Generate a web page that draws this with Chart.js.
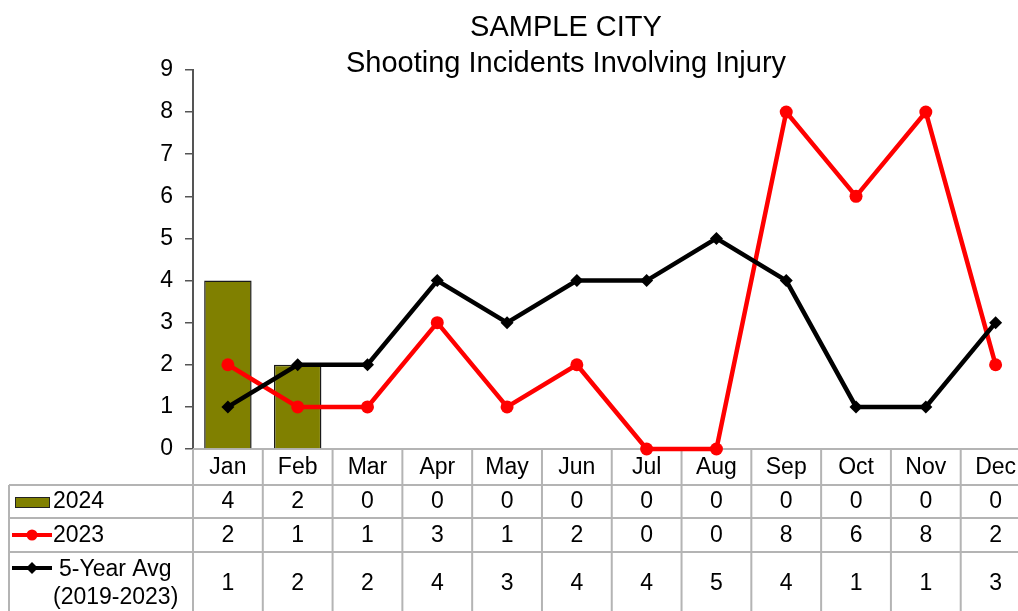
<!DOCTYPE html>
<html>
<head>
<meta charset="utf-8">
<script src="https://cdn.jsdelivr.net/npm/chart.js@4/dist/chart.umd.min.js"></script>
<style>
    html, body { margin: 0; padding: 0; background: #fff; overflow: hidden; }
    #wrap { width: 1037px; height: 611px; position: relative; }
</style>
</head>
<body>
<div id="wrap"><canvas id="chart"></canvas></div>
<script>
// ---- data ----
const months = ['Jan', 'Feb', 'Mar', 'Apr', 'May', 'Jun', 'Jul', 'Aug', 'Sep', 'Oct', 'Nov', 'Dec'];
const values2024 = [4, 2, 0, 0, 0, 0, 0, 0, 0, 0, 0, 0];
const values2023 = [2, 1, 1, 3, 1, 2, 0, 0, 8, 6, 8, 2];
const avg5Year = [1, 2, 2, 4, 3, 4, 4, 5, 4, 1, 1, 3];
const yTicks = [0, 1, 2, 3, 4, 5, 6, 7, 8, 9];
const titleLines = ['SAMPLE CITY', 'Shooting Incidents Involving Injury'];

const FONT = '"Liberation Sans", Arial, sans-serif';
const OLIVE = '#808000';
const GRID = '#b4b4b4';
const ROW_TOPS = [485, 518, 552];

// table grid goes under the series so zero values stay visible
const tableGrid = {
    id: 'tableGrid',
    beforeDatasetsDraw(chart) {
        const ctx = chart.ctx;
        const area = chart.chartArea;
        const colW = chart.scales.x.width / months.length;
        const leftEdge = 9;

        ctx.save();
        ctx.strokeStyle = GRID;
        ctx.lineWidth = 2;
        ctx.beginPath();
        ctx.moveTo(area.left, area.bottom);
        ctx.lineTo(area.right, area.bottom);
        ROW_TOPS.forEach(y => {
            ctx.moveTo(leftEdge, y);
            ctx.lineTo(area.right, y);
        });
        ctx.moveTo(leftEdge, ROW_TOPS[0]);
        ctx.lineTo(leftEdge, 611);
        for (let i = 0; i <= months.length; i++) {
            const px = area.left + i * colW;
            ctx.moveTo(px, area.bottom);
            ctx.lineTo(px, 611);
        }
        ctx.stroke();
        ctx.restore();
    }
};

// title, month labels, values and row labels
const tableText = {
    id: 'tableText',
    afterDraw(chart) {
        const ctx = chart.ctx;
        const x = chart.scales.x;
        const area = chart.chartArea;

        ctx.save();
        ctx.fillStyle = '#000';
        ctx.textAlign = 'center';
        ctx.textBaseline = 'alphabetic';
        ctx.font = '29px ' + FONT;
        ctx.fillText(titleLines[0], 566, 36);
        ctx.fillText(titleLines[1], 566, 72);

        ctx.font = '23px ' + FONT;
        ctx.textBaseline = 'middle';
        months.forEach((m, i) => {
            const cx = x.getPixelForValue(i);
            ctx.fillText(m, cx, (area.bottom + ROW_TOPS[0]) / 2 + 1);
            ctx.fillText(String(values2024[i]), cx, 502);
            ctx.fillText(String(values2023[i]), cx, 536);
            ctx.fillText(String(avg5Year[i]), cx, 584);
        });

        // legend keys
        ctx.fillStyle = OLIVE;
        ctx.fillRect(15, 497, 34, 10);
        ctx.strokeStyle = '#222';
        ctx.lineWidth = 1;
        ctx.strokeRect(15.5, 497.5, 34, 10);

        ctx.strokeStyle = '#ff0000';
        ctx.lineWidth = 4;
        ctx.beginPath();
        ctx.moveTo(12, 535);
        ctx.lineTo(52, 535);
        ctx.stroke();
        ctx.fillStyle = '#ff0000';
        ctx.beginPath();
        ctx.arc(32, 535, 5.5, 0, Math.PI * 2);
        ctx.fill();

        ctx.strokeStyle = '#000';
        ctx.beginPath();
        ctx.moveTo(12, 568);
        ctx.lineTo(52, 568);
        ctx.stroke();
        ctx.fillStyle = '#000';
        ctx.beginPath();
        ctx.moveTo(32, 562);
        ctx.lineTo(38, 568);
        ctx.lineTo(32, 574);
        ctx.lineTo(26, 568);
        ctx.closePath();
        ctx.fill();

        ctx.textAlign = 'left';
        ctx.fillText('2024', 53, 502);
        ctx.fillText('2023', 53, 536);
        ctx.fillText('5-Year Avg', 59, 570);
        ctx.fillText('(2019-2023)', 53, 598);
        ctx.restore();
    }
};

new Chart(document.getElementById('chart'), {
    data: {
        labels: months,
        datasets: [
            {
                type: 'line',
                label: '5-Year Avg (2019-2023)',
                data: avg5Year,
                borderColor: '#000000',
                backgroundColor: '#000000',
                borderWidth: 4.5,
                pointStyle: 'rectRot',
                pointRadius: 6.5,
                pointBorderWidth: 0,
                tension: 0,
                clip: false,
                order: 1
            },
            {
                type: 'line',
                label: '2023',
                data: values2023,
                borderColor: '#ff0000',
                backgroundColor: '#ff0000',
                borderWidth: 4.5,
                pointRadius: 6.5,
                pointBorderWidth: 0,
                tension: 0,
                clip: false,
                order: 2
            },
            {
                type: 'bar',
                label: '2024',
                data: values2024,
                backgroundColor: OLIVE,
                borderColor: '#1a1a1a',
                borderWidth: 1.5,
                barPercentage: 0.68,
                categoryPercentage: 1,
                order: 3
            }
        ]
    },
    options: {
        responsive: true,
        maintainAspectRatio: false,
        animation: false,
        layout: {
            padding: { top: 70, bottom: 162, left: 0, right: 1 }
        },
        plugins: {
            legend: { display: false },
            title: { display: false },
            tooltip: { enabled: false }
        },
        scales: {
            x: {
                display: false,
                offset: true
            },
            y: {
                min: 0,
                max: 9,
                afterBuildTicks(scale) {
                    scale.ticks = yTicks.map(v => ({ value: v }));
                },
                afterFit(scale) {
                    scale.width = 193;
                },
                grid: {
                    drawOnChartArea: false,
                    tickLength: 8,
                    color: '#555555',
                    lineWidth: 1.5
                },
                border: { color: '#555555', width: 2 },
                ticks: {
                    color: '#000',
                    padding: 12,
                    font: { family: FONT, size: 23 }
                }
            }
        }
    },
    plugins: [tableGrid, tableText]
});
</script>
</body>
</html>
